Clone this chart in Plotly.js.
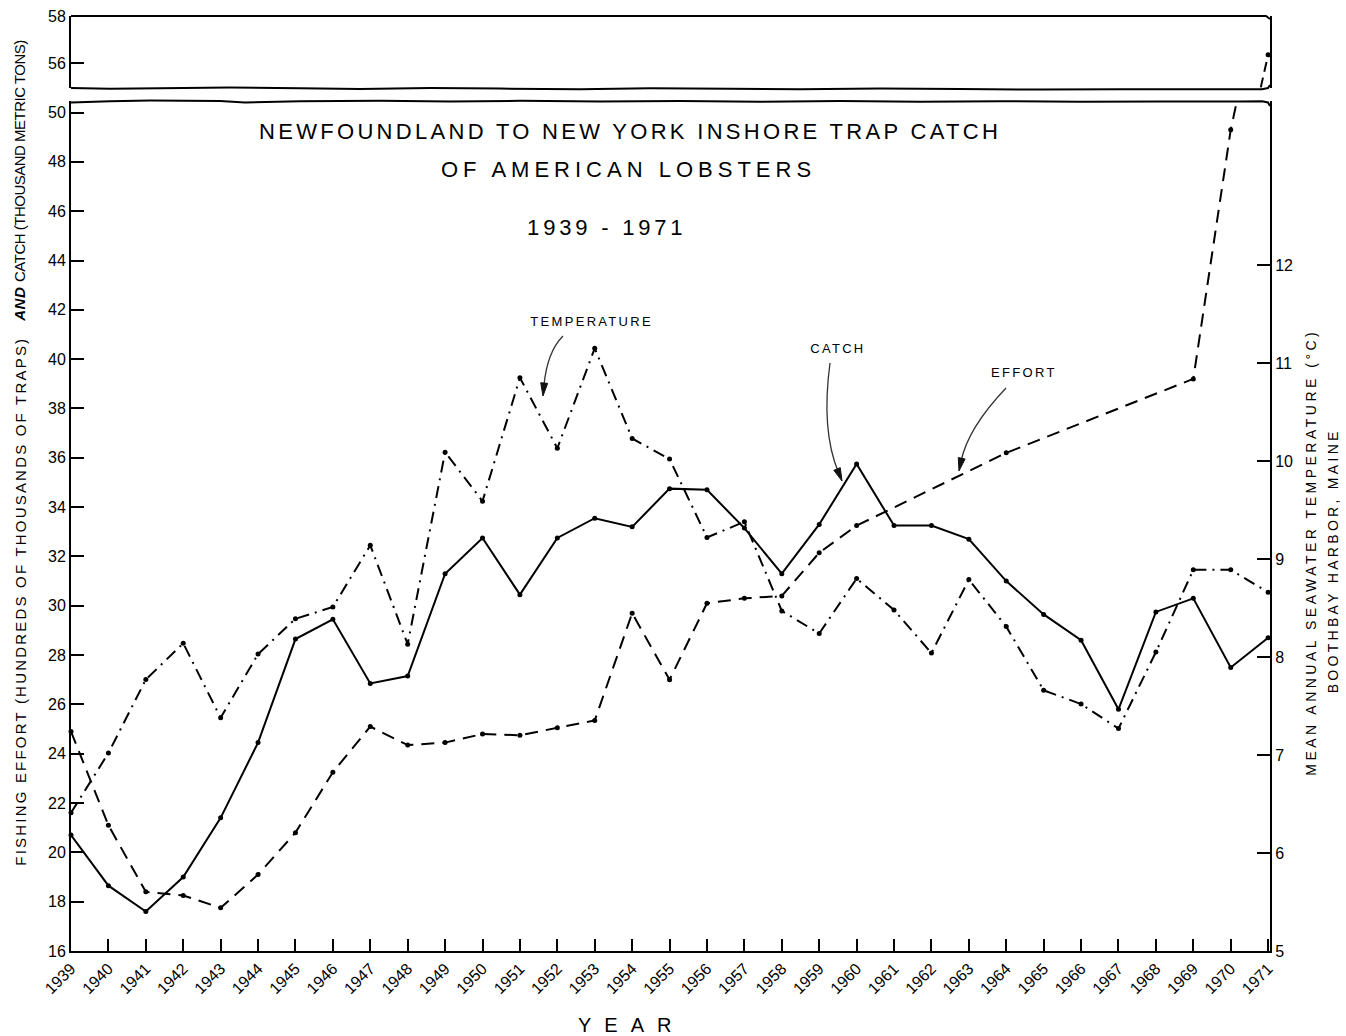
<!DOCTYPE html>
<html><head><meta charset="utf-8">
<script src="https://cdn.plot.ly/plotly-3.0.1.min.js"></script>
<style>html,body{margin:0;padding:0;background:#fff}</style>
</head><body><div id="chart" style="width:1346px;height:1036px"></div>
<script>
// ---------- DATA ----------
const years = [1939,1940,1941,1942,1943,1944,1945,1946,1947,1948,1949,1950,1951,1952,1953,1954,1955,1956,1957,1958,1959,1960,1961,1962,1963,1964,1965,1966,1967,1968,1969,1970,1971];
const yearLabels = ["1939","1940","1941","1942","1943","1944","1945","1946","1947","1948","1949","1950","1951","1952","1953","1954","1955","1956","1957","1958","1959","1960","1961","1962","1963","1964","1965","1966","1967","1968","1969","1970","1971"];
// Catch, thousand metric tons (solid line)
const catchValues = [20.7,18.65,17.6,19.0,21.4,24.45,28.65,29.45,26.85,27.15,31.3,32.75,30.45,32.75,33.55,33.2,34.75,34.7,33.15,31.3,33.3,35.75,33.25,33.25,32.7,31.0,29.65,28.6,25.8,29.75,30.3,27.5,28.7];
// Fishing effort, hundreds of thousands of traps (dashed line)
const effortYears = [1939,1940,1941,1942,1943,1944,1945,1946,1947,1948,1949,1950,1951,1952,1953,1954,1955,1956,1957,1958,1959,1960,1964,1969,1970,1971];
const effortValues = [24.9,21.1,18.4,18.25,17.75,19.1,20.8,23.25,25.1,24.35,24.45,24.8,24.75,25.05,25.35,29.7,27.0,30.1,30.3,30.4,32.15,33.25,36.2,39.2,49.3,56.35];
// Mean annual seawater temperature, Boothbay Harbor (dash-dot line)
const temperatureValues = [6.41,7.02,7.77,8.14,7.38,8.03,8.39,8.51,9.14,8.13,10.09,9.59,10.85,10.13,11.15,10.23,10.02,9.22,9.38,8.47,8.24,8.80,8.48,8.04,8.79,8.31,7.66,7.52,7.27,8.05,8.89,8.89,8.66];
const leftTicks = [16,18,20,22,24,26,28,30,32,34,36,38,40,42,44,46,48,50];
const upperTicks = [56,58];
const tempTicks = [5,6,7,8,9,10,11,12];

// ---------- LAYOUT HELPERS (pixel -> paper) ----------
const L = 71, R = 1270, T = 16, B = 951;
const PW = R - L, PH = B - T;
const px = x => (x - L) / PW;
const py = y => (B - y) / PH;
const FONT = "Liberation Sans, Arial, sans-serif";

function pathFrom(pts){
  return pts.map((p,i)=> (i? 'L':'M') + px(p[0]).toFixed(5) + ',' + py(p[1]).toFixed(5)).join(' ');
}
function curveArrow(s, c, t){
  const dx = t[0]-c[0], dy = t[1]-c[1];
  const len = Math.hypot(dx,dy), ux = dx/len, uy = dy/len;
  const hl = 13, hw = 3.5;
  const bx = t[0]-ux*hl, by = t[1]-uy*hl;
  const line = {type:'path', xref:'paper', yref:'paper', line:{color:'#333', width:1.3},
    path: 'M'+px(s[0])+','+py(s[1])+' Q'+px(c[0])+','+py(c[1])+' '+px(bx+ux*3)+','+py(by+uy*3)};
  const head = {type:'path', xref:'paper', yref:'paper', line:{color:'#111', width:1}, fillcolor:'#111',
    path: pathFrom([[t[0],t[1]],[bx - uy*hw, by + ux*hw],[bx + uy*hw, by - ux*hw]]) + ' Z'};
  return [line, head];
}

const upperDomBottom = py(88);
const lowerDomTop = py(101);

const waveUpper = [[71,88],[110,88.8],[160,88.3],[230,87.6],[300,88.2],[360,88.9],[430,88],[500,88.6],[580,89.2],[650,88.2],[730,88.8],[800,89.3],[880,88.4],[960,88.9],[1040,89.6],[1120,89.2],[1200,89.3],[1262,89.2],[1268,88],[1270,85]];
const waveLower = [[71,102.5],[110,101.2],[150,100.6],[220,101],[245,102.4],[300,101.2],[380,100.8],[450,101.6],[520,100.8],[600,101.5],[680,101],[760,101.7],[840,101],[920,101.8],[1000,101.2],[1080,101.8],[1160,101.4],[1240,101.6],[1262,101.3],[1268,102.5],[1270,106]];

const shapes = [
  {type:'path', xref:'paper', yref:'paper', line:{color:'#000', width:2}, path: pathFrom([[71,16],[1266,16],[1270,19]])},
  {type:'path', xref:'paper', yref:'paper', line:{color:'#000', width:2}, path: pathFrom(waveUpper)},
  {type:'path', xref:'paper', yref:'paper', line:{color:'#000', width:2}, path: pathFrom(waveLower)},
  ...curveArrow([563,336],[547,352],[543,396]),
  ...curveArrow([830,363],[821,430],[842,481]),
  ...curveArrow([1006,388],[968,428],[959,471])
];

function ann(text, x, y, size, opts){
  return Object.assign({text:text, xref:'paper', yref:'paper', x:px(x), y:py(y), showarrow:false,
    xanchor:'center', yanchor:'middle', font:{family:FONT, size:size, color:'#000'}}, opts||{});
}
const annotations = [
  ann('NEWFOUNDLAND TO NEW YORK INSHORE TRAP CATCH', 630, 132, 22),
  ann('OF AMERICAN LOBSTERS', 628, 170, 22),
  ann('1939 - 1971', 606, 228, 22),
  ann('TEMPERATURE', 592, 321, 13),
  ann('CATCH', 838, 348, 13),
  ann('EFFORT', 1024, 372, 13),
  ann('YEAR', 631, 1025, 20),
  ann('FISHING EFFORT (HUNDREDS OF THOUSANDS OF TRAPS)', 20, 601, 15, {textangle:-90}),
  ann('<b><i>AND</i></b>', 20, 304, 15, {textangle:-90}),
  ann('CATCH (THOUSAND METRIC TONS)', 20, 161, 15, {textangle:-90}),
  ann('MEAN ANNUAL SEAWATER TEMPERATURE (°C)', 1311, 552, 14, {textangle:-90}),
  ann('BOOTHBAY HARBOR, MAINE', 1333, 561, 14, {textangle:-90})
];
const spacing = {'NEWFOUNDLAND':3.3, 'OF AMERICAN':5, '1939 - 1971':3.8, 'TEMPERATURE':2.3, 'CATCH (':-0.5, 'CATCH':2.3, 'EFFORT':2.3, 'YEAR':13, 'FISHING':2.2, 'AND':0.5, 'MEAN':3.5, 'BOOTHBAY':3.3};

const lineBase = {color:'#000', width:2};
const markerBase = {color:'#000', size:5};
const traces = [
  {type:'scatter', mode:'lines+markers', name:'Catch', x:years, y:catchValues, xaxis:'x', yaxis:'y',
   line:Object.assign({dash:'solid'}, lineBase), marker:markerBase, cliponaxis:false},
  {type:'scatter', mode:'lines+markers', name:'Effort', x:effortYears, y:effortValues, xaxis:'x', yaxis:'y',
   line:Object.assign({dash:'13px,8px'}, lineBase), marker:markerBase, cliponaxis:false},
  {type:'scatter', mode:'lines+markers', name:'Effort (upper)', x:effortYears, y:effortValues, xaxis:'x', yaxis:'y2',
   line:Object.assign({dash:'10px,6px'}, lineBase), marker:markerBase, cliponaxis:true},
  {type:'scatter', mode:'lines+markers', name:'Temperature', x:years, y:temperatureValues, xaxis:'x', yaxis:'y3',
   line:Object.assign({dash:'12px,6px,2px,6px'}, lineBase), marker:markerBase, cliponaxis:false}
];

const tickFont = {family:FONT, size:16, color:'#000'};
const layout = {
  width:1346, height:1036,
  margin:{l:L, r:1346-R, t:T, b:1036-B, pad:0},
  paper_bgcolor:'#fff', plot_bgcolor:'#fff',
  showlegend:false,
  xaxis:{domain:[0,1], range:[1939,1971.05], tickmode:'array', tickvals:years, ticktext:yearLabels,
    tickangle:-45, ticks:'inside', ticklen:12, tickwidth:2, tickcolor:'#000',
    showline:true, linewidth:2, linecolor:'#000', showgrid:false, zeroline:false,
    anchor:'y', tickfont:tickFont, automargin:false},
  yaxis:{domain:[0, lowerDomTop], range:[16, 16 + (951-101)/24.66], tickmode:'array', tickvals:leftTicks,
    ticks:'inside', ticklen:13, tickwidth:2, tickcolor:'#000', showline:true, linewidth:2, linecolor:'#000',
    showgrid:false, zeroline:false, anchor:'x', tickfont:tickFont, automargin:false},
  yaxis2:{domain:[upperDomBottom, 1], range:[56 - (88-63)/23.5, 58], tickmode:'array', tickvals:upperTicks,
    ticks:'inside', ticklen:13, tickwidth:2, tickcolor:'#000', showline:true, mirror:true, linewidth:2, linecolor:'#000',
    showgrid:false, zeroline:false, anchor:'x', tickfont:tickFont, automargin:false},
  yaxis3:{overlaying:'y', side:'right', anchor:'x', range:[5, 5 + (951-101)/98.0], tickmode:'array', tickvals:tempTicks,
    ticks:'inside', ticklen:13, tickwidth:2, tickcolor:'#000', showline:true, linewidth:2, linecolor:'#000',
    showgrid:false, zeroline:false, tickfont:tickFont, automargin:false},
  shapes:shapes,
  annotations:annotations
};

Plotly.newPlot('chart', traces, layout, {displayModeBar:false, staticPlot:true}).then(()=>{
  document.querySelectorAll('.annotation-text').forEach(t=>{
    const s = t.textContent;
    let best = null;
    for (const k in spacing){ if (s.indexOf(k) === 0 && (best === null || k.length > best.length)) best = k; }
    if (best !== null) t.style.letterSpacing = spacing[best] + 'px';
  });
});
</script>
</body></html>
